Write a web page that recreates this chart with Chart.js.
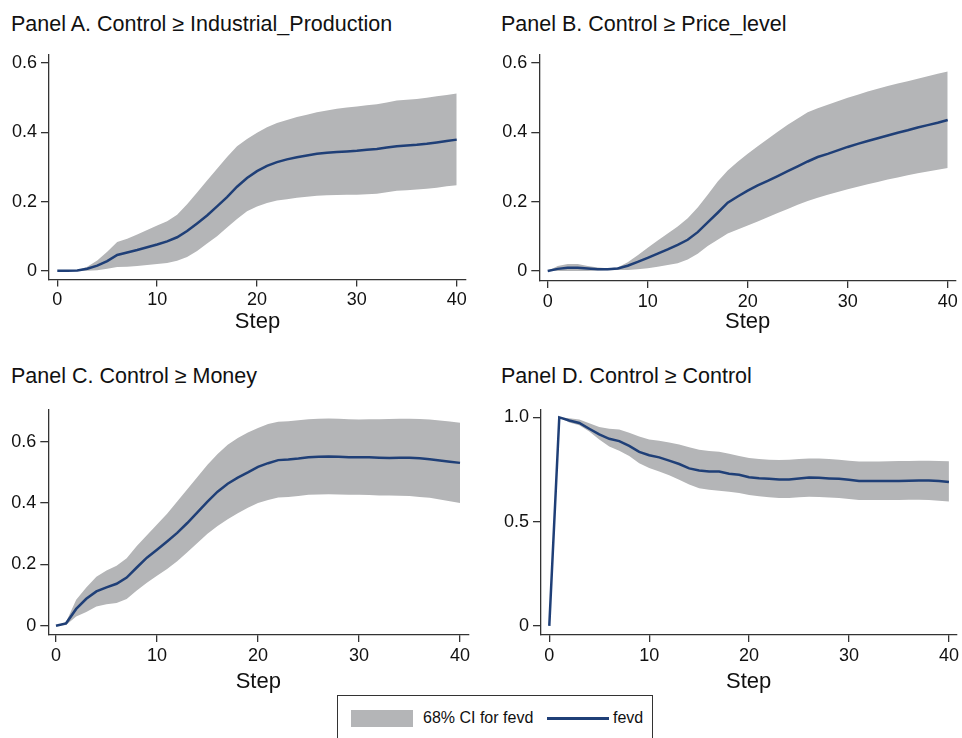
<!DOCTYPE html>
<html>
<head>
<meta charset="utf-8">
<script src="https://cdn.jsdelivr.net/npm/chart.js@4.4.1/dist/chart.umd.min.js"></script>
<style>
    html, body { margin: 0; padding: 0; background: #fff; overflow: hidden; }
    body { width: 962px; height: 738px; position: relative; font-family: "Liberation Sans", Arial, sans-serif; color: #111; }
    .panel-title { position: absolute; font-size: 21.5px; line-height: 24px; white-space: nowrap; }
    .box { position: absolute; }
    .legend { position: absolute; left: 337px; top: 695px; width: 314px; height: 60px; border: 1px solid #333; background: #fff; font-size: 16px; }
    .legend .swatch { position: absolute; left: 13px; top: 14px; width: 62px; height: 17px; background: #b4b5b7; }
    .legend .ln { position: absolute; left: 209px; top: 21px; width: 62px; height: 2.5px; background: #1f3f77; }
    .legend span { position: absolute; top: 13px; line-height: 18px; }
</style>
</head>
<body>

<div class="panel-title" style="left:11px; top:12px;">Panel A. Control &ge; Industrial_Production</div>
<div class="panel-title" style="left:501px; top:12px;">Panel B. Control &ge; Price_level</div>
<div class="panel-title" style="left:11px; top:364px;">Panel C. Control &ge; Money</div>
<div class="panel-title" style="left:501px; top:364px;">Panel D. Control &ge; Control</div>

<div class="box" style="left:0; top:40px; width:481px; height:300px;"><canvas id="chartA"></canvas></div>
<div class="box" style="left:481px; top:40px; width:481px; height:300px;"><canvas id="chartB"></canvas></div>
<div class="box" style="left:0; top:395px; width:481px; height:305px;"><canvas id="chartC"></canvas></div>
<div class="box" style="left:481px; top:395px; width:481px; height:305px;"><canvas id="chartD"></canvas></div>

<div class="legend">
    <div class="swatch"></div>
    <span style="left:85px;">68% CI for fevd</span>
    <div class="ln"></div>
    <span style="left:275px;">fevd</span>
</div>

<script>
// steps (x axis)
const steps = [0, 1, 2, 3, 4, 5, 6, 7, 8, 9, 10, 11, 12, 13, 14, 15, 16, 17, 18, 19, 20,
    21, 22, 23, 24, 25, 26, 27, 28, 29, 30, 31, 32, 33, 34, 35, 36, 37, 38, 39, 40];
const xTicks = [0, 10, 20, 30, 40];

// Panel A: Control -> Industrial_Production
const fevdA = [0, 0, 0.001, 0.006, 0.015, 0.028, 0.046, 0.053, 0.06, 0.068, 0.076, 0.085, 0.097, 0.115, 0.137,
    0.16, 0.186, 0.213, 0.243, 0.268, 0.288, 0.303, 0.314, 0.322, 0.328, 0.333, 0.338, 0.341, 0.343, 0.345,
    0.347, 0.35, 0.352, 0.356, 0.36, 0.362, 0.364, 0.367, 0.371, 0.375, 0.379];
const upperA = [0, 0, 0.002, 0.012, 0.03, 0.055, 0.083, 0.093, 0.105, 0.118, 0.131, 0.143, 0.162, 0.192, 0.226,
    0.261, 0.295, 0.329, 0.36, 0.381, 0.399, 0.415, 0.427, 0.436, 0.444, 0.451, 0.458, 0.463, 0.468, 0.472,
    0.475, 0.478, 0.481, 0.486, 0.492, 0.494, 0.496, 0.5, 0.504, 0.508, 0.512];
const lowerA = [0, 0, 0, 0, 0.002, 0.006, 0.011, 0.012, 0.014, 0.017, 0.02, 0.023, 0.029, 0.04, 0.057,
    0.079, 0.1, 0.125, 0.15, 0.172, 0.186, 0.196, 0.203, 0.207, 0.211, 0.214, 0.217, 0.218, 0.219, 0.22,
    0.22, 0.221, 0.223, 0.227, 0.231, 0.233, 0.235, 0.237, 0.24, 0.244, 0.247];

// Panel B: Control -> Price_level
const fevdB = [0, 0.006, 0.009, 0.009, 0.007, 0.005, 0.005, 0.007, 0.015, 0.026, 0.038, 0.05, 0.062, 0.075, 0.09,
    0.112, 0.14, 0.168, 0.197, 0.215, 0.232, 0.247, 0.26, 0.274, 0.288, 0.302, 0.316, 0.329, 0.338, 0.348,
    0.358, 0.367, 0.375, 0.383, 0.391, 0.399, 0.406, 0.414, 0.421, 0.428, 0.436];
const upperB = [0, 0.014, 0.02, 0.02, 0.014, 0.01, 0.008, 0.01, 0.025, 0.045, 0.067, 0.088, 0.108, 0.128, 0.152,
    0.183, 0.22, 0.258, 0.29, 0.315, 0.338, 0.36, 0.381, 0.402, 0.422, 0.44, 0.458, 0.47, 0.48, 0.49,
    0.5, 0.509, 0.518, 0.526, 0.534, 0.541, 0.548, 0.555, 0.562, 0.569, 0.576];
const lowerB = [0, 0, 0, 0, 0, 0.001, 0.002, 0.003, 0.003, 0.005, 0.008, 0.012, 0.017, 0.022, 0.033,
    0.05, 0.072, 0.09, 0.108, 0.12, 0.131, 0.143, 0.155, 0.167, 0.179, 0.191, 0.202, 0.211, 0.22, 0.228,
    0.236, 0.243, 0.25, 0.257, 0.264, 0.27, 0.276, 0.282, 0.287, 0.292, 0.297];

// Panel C: Control -> Money
const fevdC = [0, 0.008, 0.055, 0.088, 0.112, 0.125, 0.137, 0.157, 0.19, 0.222, 0.248, 0.275, 0.303, 0.335, 0.37,
    0.405, 0.437, 0.463, 0.483, 0.5, 0.518, 0.53, 0.54, 0.542, 0.545, 0.549, 0.551, 0.552, 0.551, 0.549,
    0.549, 0.549, 0.548, 0.547, 0.548, 0.548, 0.546, 0.543, 0.539, 0.535, 0.531];
const upperC = [0, 0.012, 0.085, 0.125, 0.16, 0.18, 0.196, 0.22, 0.26, 0.295, 0.33, 0.365, 0.405, 0.445, 0.485,
    0.525, 0.56, 0.59, 0.612, 0.63, 0.645, 0.658, 0.665, 0.667, 0.67, 0.673, 0.675, 0.676, 0.675, 0.673,
    0.672, 0.673, 0.673, 0.674, 0.675, 0.675, 0.674, 0.672, 0.669, 0.666, 0.662];
const lowerC = [0, 0.003, 0.03, 0.045, 0.063, 0.07, 0.074, 0.087, 0.115, 0.14, 0.163, 0.185, 0.21, 0.24, 0.27,
    0.3, 0.325, 0.347, 0.367, 0.385, 0.4, 0.41, 0.418, 0.42, 0.423, 0.427, 0.428, 0.429, 0.428, 0.427,
    0.427, 0.426, 0.425, 0.425, 0.424, 0.423, 0.42, 0.417, 0.412, 0.406, 0.4];

// Panel D: Control -> Control
const fevdD = [0, 1, 0.985, 0.973, 0.945, 0.918, 0.897, 0.886, 0.863, 0.834, 0.818, 0.808, 0.792, 0.776, 0.755,
    0.745, 0.74, 0.74, 0.729, 0.724, 0.713, 0.708, 0.705, 0.702, 0.702, 0.707, 0.711, 0.71, 0.707, 0.705,
    0.7, 0.694, 0.694, 0.694, 0.694, 0.695, 0.696, 0.697, 0.697, 0.694, 0.69];
const upperD = [0, 1, 0.995, 0.99, 0.972, 0.953, 0.945, 0.942, 0.926, 0.908, 0.894, 0.888, 0.879, 0.87, 0.856,
    0.844, 0.838, 0.835, 0.825, 0.815, 0.805, 0.8, 0.797, 0.795, 0.796, 0.8, 0.803, 0.802, 0.8, 0.797,
    0.792, 0.788, 0.788, 0.788, 0.789, 0.79, 0.791, 0.792, 0.792, 0.791, 0.789];
const lowerD = [0, 1, 0.975, 0.962, 0.932, 0.894, 0.86, 0.84, 0.815, 0.78, 0.757, 0.74, 0.722, 0.7, 0.678,
    0.66, 0.652, 0.648, 0.643, 0.637, 0.628, 0.622, 0.617, 0.613, 0.613, 0.617, 0.619, 0.618, 0.616, 0.613,
    0.608, 0.604, 0.603, 0.603, 0.604, 0.604, 0.605, 0.605, 0.604, 0.6, 0.596];

const yTicksABC = [0, 0.2, 0.4, 0.6];
const yLabelsABC = ["0", "0.2", "0.4", "0.6"];
const yTicksD = [0, 0.5, 1];
const yLabelsD = ["0", "0.5", "1.0"];

const bandColor = "#b4b5b7";
const lineColor = "#1f3f77";
const axisColor = "#333333";
const fontFamily = '"Liberation Sans", Arial, sans-serif';

// build one panel
function makePanel(id, fevd, lower, upper, yTicks, yLabels, box) {
    const ctx = document.getElementById(id).getContext("2d");
    return new Chart(ctx, {
        type: "line",
        data: {
            labels: steps,
            datasets: [
                { data: lower, borderWidth: 0, pointRadius: 0, fill: false, order: 2 },
                { data: upper, borderWidth: 0, pointRadius: 0, backgroundColor: bandColor, fill: "-1", order: 2 },
                { data: fevd, borderColor: lineColor, borderWidth: 2.5, pointRadius: 0, fill: false, tension: 0, order: 0 }
            ]
        },
        options: {
            responsive: true,
            maintainAspectRatio: false,
            animation: false,
            events: [],
            layout: { padding: { top: box.top, right: box.right, left: 0, bottom: 0 } },
            plugins: { legend: { display: false }, tooltip: { enabled: false } },
            scales: {
                x: {
                    type: "linear",
                    min: box.xmin,
                    max: box.xmax,
                    afterBuildTicks: s => { s.ticks = xTicks.map(v => ({ value: v })); },
                    afterFit: s => { s.height = box.xh; },
                    border: { display: true, color: axisColor, width: 1.3 },
                    grid: { display: true, drawOnChartArea: false, drawTicks: true, tickLength: 7, color: axisColor, lineWidth: 1.3 },
                    ticks: { autoSkip: false, maxRotation: 0, padding: 3, color: "#111", font: { family: fontFamily, size: 18 } },
                    title: { display: true, text: "Step", color: "#111", padding: { top: 0, bottom: 5 }, font: { family: fontFamily, size: 22 } }
                },
                y: {
                    min: box.ymin,
                    max: box.ymax,
                    afterBuildTicks: s => { s.ticks = yTicks.map(v => ({ value: v })); },
                    afterFit: s => { s.width = box.yw; },
                    border: { display: true, color: axisColor, width: 1.3 },
                    grid: { display: true, drawOnChartArea: false, drawTicks: true, tickLength: 8, color: axisColor, lineWidth: 1.3 },
                    ticks: {
                        autoSkip: false, padding: 4, color: "#111",
                        font: { family: fontFamily, size: 18 },
                        callback: v => yLabels[yTicks.indexOf(v)]
                    }
                }
            }
        }
    });
}

document.addEventListener("DOMContentLoaded", () => {
    makePanel("chartA", fevdA, lowerA, upperA, yTicksABC, yLabelsABC,
        { top: 14, right: 15, yw: 49, xh: 60.5, xmin: -0.83, xmax: 40.93, ymin: -0.025, ymax: 0.624 });
    makePanel("chartB", fevdB, lowerB, upperB, yTicksABC, yLabelsABC,
        { top: 14, right: 6, yw: 58.3, xh: 59, xmin: -0.84, xmax: 40.83, ymin: -0.029, ymax: 0.624 });
    makePanel("chartC", fevdC, lowerC, upperC, yTicksABC, yLabelsABC,
        { top: 11.7, right: 12.7, yw: 48.3, xh: 65, xmin: -0.76, xmax: 40.82, ymin: -0.03, ymax: 0.704 });
    makePanel("chartD", fevdD, lowerD, upperD, yTicksD, yLabelsD,
        { top: 11.7, right: 3, yw: 60, xh: 65, xmin: -0.83, xmax: 40.73, ymin: -0.044, ymax: 1.036 });
});
</script>
</body>
</html>
